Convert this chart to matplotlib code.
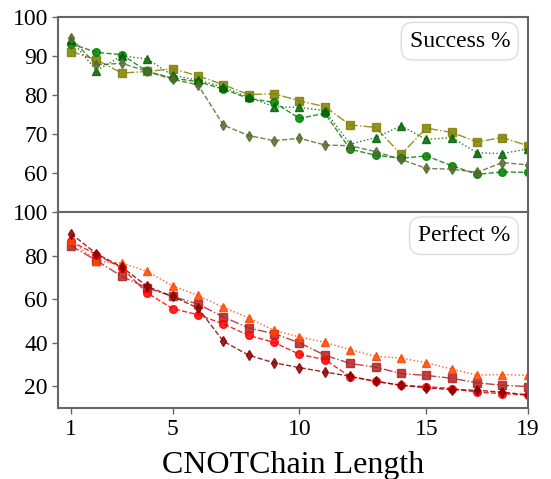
import matplotlib.pyplot as plt
import numpy as np

plt.rcParams['font.family'] = ['Liberation Serif', 'DejaVu Serif']

length = np.arange(1, 20)

# Success % (top panel)
succ_square = [91.1, 89.0, 85.6, 86.0, 86.7, 84.9, 82.6, 80.1, 80.3, 78.5,
               77.0, 72.3, 71.7, 64.8, 71.5, 70.4, 68.0, 69.1, 67.0]
succ_circle = [93.1, 90.9, 90.3, 86.0, 84.3, 83.4, 81.5, 79.1, 78.1, 74.0,
               75.3, 66.1, 64.6, 63.8, 64.4, 61.9, 59.7, 60.3, 60.2]
succ_triangle = [94.1, 86.2, 90.0, 89.2, 85.0, 83.8, 82.0, 79.4, 77.0, 76.8,
                 76.0, 67.4, 69.1, 72.1, 68.6, 69.1, 65.2, 65.0, 66.2]
succ_diamond = [94.5, 87.7, 88.1, 86.0, 84.0, 82.6, 72.3, 69.6, 68.3, 68.9,
                67.2, 67.0, 65.5, 63.5, 61.2, 61.0, 60.2, 62.7, 62.1]

# Perfect % (bottom panel)
perf_square = [84.6, 77.8, 70.5, 65.2, 61.3, 57.8, 51.9, 46.8, 44.2, 40.0,
               34.3, 30.5, 28.8, 25.9, 25.0, 23.7, 21.6, 20.5, 19.9]
perf_circle = [86.6, 80.5, 74.4, 62.9, 55.7, 52.9, 48.7, 43.4, 40.2, 34.7,
               32.3, 24.4, 22.3, 20.5, 19.9, 19.0, 17.3, 16.7, 15.9]
perf_triangle = [87.0, 77.4, 76.6, 72.8, 66.2, 61.8, 56.3, 51.4, 45.7, 42.7,
                 40.2, 36.9, 33.8, 33.0, 30.8, 28.0, 25.1, 25.4, 25.0]
perf_diamond = [90.1, 80.9, 74.8, 65.9, 61.3, 56.0, 40.7, 34.3, 30.8, 28.6,
                26.6, 24.6, 22.3, 20.5, 19.3, 18.5, 18.2, 17.3, 16.1]

fig = plt.figure(figsize=(5.51, 4.79), dpi=100)
ax1 = fig.add_axes([0.106, 0.557, 0.852, 0.408])
ax2 = fig.add_axes([0.106, 0.148, 0.852, 0.409])

lw = 1.0
ms = 5.5
ax1.plot(length, succ_square, color='#808000', ls='-.', marker='s', lw=lw, ms=ms, alpha=0.85)
ax1.plot(length, succ_circle, color='#008000', ls='--', marker='o', lw=lw, ms=ms, alpha=0.85)
ax1.plot(length, succ_triangle, color='#006400', ls=':', marker='^', lw=lw, ms=ms, alpha=0.85)
ax1.plot(length, succ_diamond, color='#556B2F', ls='--', marker='d', lw=lw, ms=ms, alpha=0.85)

ax2.plot(length, perf_square, color='#B22222', ls='-.', marker='s', lw=lw, ms=ms, alpha=0.85)
ax2.plot(length, perf_circle, color='#FF0000', ls='--', marker='o', lw=lw, ms=ms, alpha=0.85)
ax2.plot(length, perf_triangle, color='#FF4500', ls=':', marker='^', lw=lw, ms=ms, alpha=0.85)
ax2.plot(length, perf_diamond, color='#8B0000', ls='--', marker='d', lw=lw, ms=ms, alpha=0.85)

ax1.set_ylim(50, 100)
ax1.set_yticks([60, 70, 80, 90, 100])
ax2.set_ylim(10, 100)
ax2.set_yticks([20, 40, 60, 80, 100])
for ax in (ax1, ax2):
    ax.set_xlim(0.5, 19)
    for s in ax.spines.values():
        s.set_color('#666666')
        s.set_linewidth(1.5)
    ax.tick_params(colors='#666666', labelcolor='black', labelsize=17, length=4, width=1)

ax1.set_xticks(np.arange(2.5, 19, 2.5))
ax1.tick_params(axis='x', labelbottom=False, length=3)
ax2.set_xticks([1, 5, 10, 15, 19])
ax2.set_xlabel('CNOTChain Length', fontsize=23, labelpad=8)

box = dict(boxstyle='round,pad=0.35,rounding_size=0.5', fc='white', ec='#dddddd', lw=1)
ax1.text(0.962, 0.875, 'Success %', transform=ax1.transAxes, ha='right', va='center',
         fontsize=17, bbox=box)
ax2.text(0.962, 0.88, 'Perfect %', transform=ax2.transAxes, ha='right', va='center',
         fontsize=17, bbox=box)

fig.savefig('out.png', dpi=100)
